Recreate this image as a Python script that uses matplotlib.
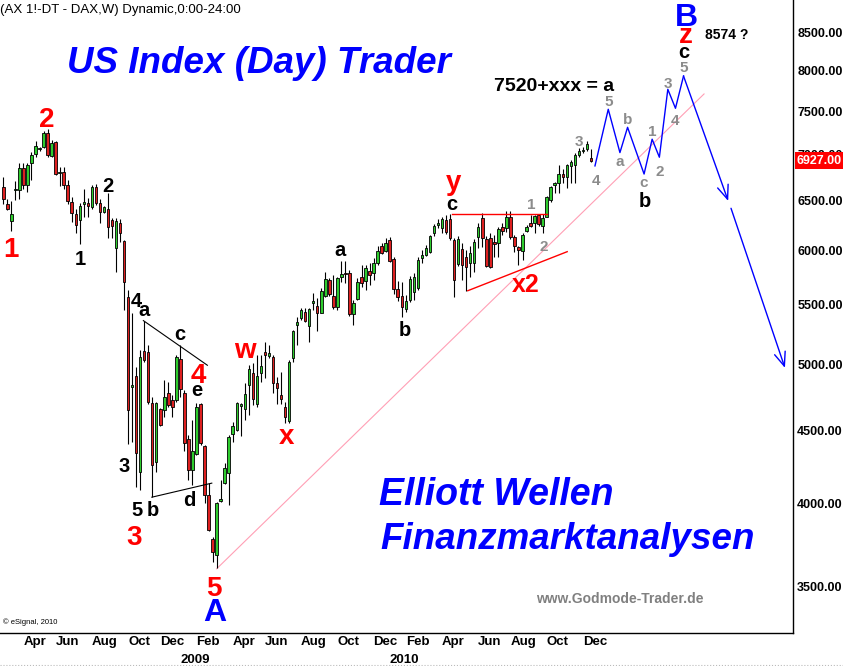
import numpy as np
import pandas as pd
import matplotlib
matplotlib.use('Agg')
import matplotlib.pyplot as plt
from matplotlib.transforms import blended_transform_factory
from matplotlib.lines import Line2D
from matplotlib.ticker import NullLocator, FixedLocator, FixedFormatter

plt.rcParams['font.family'] = ['Liberation Sans', 'DejaVu Sans']

W, H = 843, 666
start = pd.Timestamp('2008-03-03')   # first weekly bar

opens = [6640, 6460, 6290, 6610, 6610, 6850, 6660, 6905, 7000, 7060,
         7080, 7240, 6985, 7135, 6790, 6800, 6665, 6485, 6360, 6300,
         6460, 6477, 6436, 6639, 6471, 6379, 6412, 6300, 6020, 6273,
         6091, 5570, 4820, 4905, 4210, 5110, 5095, 4697, 4278, 4652,
         4647, 4778, 4722, 4722, 5043, 4773, 4434, 4221, 4332, 4692,
         4383, 4056, 3778, 3684, 4019, 4133, 4199, 4469, 4500, 4680,
         4652, 4834, 4929, 4692, 4929, 5102, 5068, 5059, 4855, 4760,
         4672, 4568, 5048, 5322, 5383, 5435, 5319, 5511, 5490, 5432,
         5580, 5720, 5578, 5484, 5747, 5790, 5784, 5418, 5549, 5747,
         5714, 5808, 5790, 5878, 6042, 5997, 6101, 5916, 5638, 5578,
         5461, 5543, 5617, 5647, 5928, 5957, 5988, 6167, 6250, 6217,
         6300, 6307, 6101, 5868, 6011, 5940, 5878, 5878, 6128, 6317,
         6108, 6118, 6084, 6074, 6227, 6217, 6333, 6134, 6030, 5997,
         6193, 6273, 6267, 6350, 6240, 6333, 6505, 6658, 6681, 6779,
         6746, 6867, 6882, 6991, 7040, 7055, 6960]
highs = [6745, 6510, 6490, 6710, 6900, 6900, 6905, 7030, 7150, 7085,
         7270, 7285, 7160, 7145, 6860, 6860, 6715, 6535, 6410, 6470,
         6620, 6523, 6663, 6674, 6512, 6443, 6575, 6317, 6317, 6307,
         6101, 5630, 5425, 4980, 5115, 5360, 5155, 4747, 4710, 4664,
         4876, 4863, 4760, 5076, 5157, 4799, 4465, 4573, 4697, 4697,
         4394, 4133, 3793, 4013, 4155, 4267, 4465, 4560, 4710, 4700,
         4851, 4995, 5008, 5076, 5076, 5184, 5157, 5076, 4900, 4939,
         4710, 5035, 5282, 5396, 5472, 5470, 5472, 5602, 5558, 5650,
         5794, 5741, 5769, 5753, 5900, 5902, 5815, 5543, 5738, 5862,
         5862, 5880, 5928, 6046, 6072, 6118, 6130, 5938, 5714, 5705,
         5587, 5760, 5787, 5938, 6004, 6053, 6150, 6260, 6310, 6333,
         6350, 6357, 6121, 6140, 6072, 6004, 6042, 6110, 6268, 6368,
         6140, 6167, 6150, 6227, 6267, 6395, 6395, 6150, 6042, 6167,
         6250, 6350, 6350, 6360, 6360, 6547, 6653, 6700, 6882, 6834,
         6893, 6936, 7010, 7066, 7077, 7150, 7055]
lows = [6465, 6400, 6190, 6505, 6510, 6620, 6590, 6715, 6970, 7040,
        7065, 6970, 6965, 6770, 6655, 6620, 6465, 6275, 6170, 6060,
        6335, 6327, 6409, 6453, 6267, 6368, 6118, 6118, 5799, 6084,
        5455, 4400, 4415, 4110, 4090, 5020, 4690, 4040, 4210, 4529,
        4597, 4672, 4597, 4710, 4747, 4348, 4155, 4120, 4324, 4394,
        4002, 3825, 3645, 3610, 4013, 4129, 3992, 4417, 4493, 4455,
        4573, 4610, 4685, 4670, 4860, 4892, 5051, 4774, 4692, 4692,
        4549, 4551, 5021, 5157, 5368, 5351, 5179, 5455, 5276, 5429,
        5570, 5578, 5464, 5455, 5707, 5695, 5406, 5325, 5543, 5662,
        5632, 5677, 5723, 5862, 5966, 5985, 5890, 5596, 5534, 5397,
        5438, 5525, 5543, 5632, 5880, 5947, 5976, 6140, 6220, 6170,
        6160, 6101, 5572, 5852, 5723, 5625, 5751, 5800, 6020, 6036,
        5846, 5831, 5940, 5940, 6150, 6183, 6108, 5988, 5862, 5909,
        6183, 6227, 6167, 6240, 6167, 6327, 6488, 6582, 6582, 6681,
        6628, 6681, 6681, 6972, 7010, 7040, 6910]
closes = [6510, 6415, 6360, 6620, 6845, 6660, 6885, 6990, 7095, 7065,
          7240, 6990, 7125, 6780, 6800, 6665, 6495, 6375, 6245, 6445,
          6487, 6446, 6639, 6477, 6385, 6429, 6227, 6240, 6290, 6173,
          5707, 4650, 4840, 4335, 5060, 5035, 4705, 4255, 4697, 4536,
          4747, 4684, 4672, 5056, 4804, 4406, 4221, 4348, 4672, 4409,
          4056, 3835, 3704, 4006, 4031, 4232, 4452, 4529, 4697, 4690,
          4768, 4960, 4727, 4903, 4989, 5076, 5094, 4850, 4812, 4727,
          4597, 5016, 5274, 5348, 5455, 5362, 5464, 5534, 5432, 5623,
          5732, 5593, 5484, 5738, 5778, 5778, 5418, 5514, 5702, 5698,
          5831, 5769, 5884, 5997, 5978, 6068, 5900, 5638, 5572, 5484,
          5537, 5729, 5753, 5909, 5957, 6020, 6140, 6240, 6273, 6307,
          6183, 6118, 5723, 6108, 5862, 5840, 5978, 6084, 6233, 6118,
          5852, 5846, 6061, 6207, 6190, 6333, 6134, 6042, 6004, 6150,
          6233, 6240, 6340, 6260, 6317, 6533, 6639, 6684, 6782, 6746,
          6882, 6911, 6991, 7033, 7050, 7120, 6927]
last_price = 6927.00

# projected wave path (week index, price)
proj_x = [147.0, 150.3, 153.2, 155.1, 159.2, 161.2, 163.0, 165.1, 167.0, 169.0]
proj_y = [6870, 7522, 7018, 7308, 6781, 7170, 6966, 7767, 7534, 7934]
arrow1 = [(169.0, 7934), (180.1, 6495)]
arrow2 = [(180.8, 6419), (194.2, 4971)]

# trend lines (week index, price)
pink_line = [(53.0, 3603), (174.1, 7709)]
tri_upper = [(34.8, 5362), (50.7, 4992)]
tri_lower = [(36.9, 4041), (51.8, 4133)]
red_top = [(111.4, 6358), (135.0, 6358)]
red_low = [(115.4, 5625), (140.1, 5988)]

y_ticks = [3500, 4000, 4500, 5000, 5500, 6000, 6500, 7000, 7500, 8000, 8500]
month_starts = ['2008-04', '2008-06', '2008-08', '2008-10', '2008-12', '2009-02',
                '2009-04', '2009-06', '2009-08', '2009-10', '2009-12', '2010-02',
                '2010-04', '2010-06', '2010-08', '2010-10', '2010-12']
month_labels = ['Apr', 'Jun', 'Aug', 'Oct', 'Dec', 'Feb', 'Apr', 'Jun', 'Aug',
                'Oct', 'Dec', 'Feb', 'Apr', 'Jun', 'Aug', 'Oct', 'Dec']
year_starts = ['2009-01', '2010-01']
year_labels = ['2009', '2010']

fig = plt.figure(figsize=(W / 100, H / 100), dpi=100)
ax = fig.add_axes([0, 33 / H, 793 / W, 633 / H])
ax.set_yscale('log')
ax.set_ylim(3251, 8961)
ax.set_xlim(-0.82, 196.2)

weeks = np.arange(len(closes))
o = np.array(opens, float); c = np.array(closes, float)
hi = np.array(highs, float); lo = np.array(lows, float)
cols = np.where(c >= o, '#2ECC2E', '#DD2020')
ax.vlines(weeks, lo, hi, color='black', lw=0.8, zorder=2)
ax.bar(weeks, np.abs(c - o), bottom=np.minimum(o, c), width=0.62, color=cols,
       edgecolor='black', linewidth=0.6, zorder=3)

# lines
ax.plot(*zip(*pink_line), color='#FF9FB5', lw=0.8, zorder=1)
ax.plot(*zip(*tri_upper), color='black', lw=0.8, zorder=4)
ax.plot(*zip(*tri_lower), color='black', lw=0.8, zorder=4)
ax.plot(*zip(*red_top), color='#FF0000', lw=1.0, zorder=4)
ax.plot(*zip(*red_low), color='#FF0000', lw=1.0, zorder=4)
ax.plot(proj_x, proj_y, color='#0000FF', lw=1.0, zorder=4)
for a in (arrow1, arrow2):
    ax.annotate('', xy=a[1], xytext=a[0],
                arrowprops=dict(arrowstyle='->,head_length=1.0,head_width=0.4',
                                color='#0000FF', lw=1.0, shrinkA=0, shrinkB=0,
                                mutation_scale=10), zorder=4)

# axes styling
for s in ('left', 'top'):
    ax.spines[s].set_visible(False)
for s in ('right', 'bottom'):
    ax.spines[s].set_linewidth(1.0)
    ax.spines[s].set_color('black')
ax.yaxis.tick_right()
ax.yaxis.set_major_locator(FixedLocator(y_ticks))
ax.yaxis.set_major_formatter(FixedFormatter([f'{v:.2f}' for v in y_ticks]))
ax.yaxis.set_minor_locator(NullLocator())
ax.tick_params(axis='y', length=0, pad=3, labelsize=9)
for lbl in ax.get_yticklabels():
    lbl.set_fontweight('bold')

all_weeks = pd.date_range(start, periods=220, freq='7D')
def week_pos(d):
    return int(np.searchsorted(all_weeks, pd.Timestamp(d)))

ax.set_xticks([week_pos(d) for d in month_starts])
ax.set_xticklabels(month_labels, ha='left', fontweight='bold', fontsize=9.5)
ax.xaxis.set_minor_locator(NullLocator())
ax.tick_params(axis='x', length=0, pad=2.5)
ytr = blended_transform_factory(ax.transData, fig.transFigure)
for d, t in zip(year_starts, year_labels):
    ax.text(week_pos(d), 1 - 663 / H, t, transform=ytr, ha='left', va='baseline',
            fontsize=9.5, fontweight='bold', clip_on=False)

# last price box
btr = blended_transform_factory(ax.transAxes, ax.transData)
ax.text(797 / 793, last_price, f'{last_price:.2f}', transform=btr, ha='left',
        va='center', color='white', fontweight='bold', fontsize=9, zorder=10,
        clip_on=False, bbox=dict(boxstyle='square,pad=0.18', fc='#FF0000', ec='none'))

# texts (pixel positions)
def ptext(x, y, s, **kw):
    fig.text(x / W, 1 - y / H, s, **kw)

def wlabel(s, x, y, size, color, f=None):
    if f is None:
        tall = any(ch.isdigit() or ch.isupper() or ch in 'bdfhklt' for ch in s)
        f = 0.36 if tall else 0.26
    base = y + f * size * 100 / 72
    ptext(x, base, s, ha='center', va='baseline', fontsize=size, color=color,
          fontweight='bold')

ptext(0, 13.5, '(AX 1!-DT - DAX,W) Dynamic,0:00-24:00', ha='left', va='baseline',
      fontsize=9.5, color='black')
ptext(67, 73, 'US Index (Day) Trader', ha='left', va='baseline', fontsize=26.5,
      color='#0000FF', fontweight='bold', fontstyle='italic')
ptext(379, 505, 'Elliott Wellen', ha='left', va='baseline', fontsize=27,
      color='#0000FF', fontweight='bold', fontstyle='italic')
ptext(380, 549, 'Finanzmarktanalysen', ha='left', va='baseline', fontsize=26.5,
      color='#0000FF', fontweight='bold', fontstyle='italic')
ptext(536, 603, 'www.Godmode-Trader.de', ha='left', va='baseline', fontsize=10,
      color='#808080', fontweight='bold')
ptext(3, 624, '© eSignal, 2010', ha='left', va='baseline', fontsize=5.5, color='black')
ptext(614, 91, '7520+xxx = a', ha='right', va='baseline', fontsize=14,
      color='black', fontweight='bold')
wlabel('8574 ?', 726.7, 34.3, 10, 'black')

RED, BLK, GRY, BLU = '#FF0000', 'black', '#8C8C8C', '#0000FF'
red_labels = [('2', 46.7, 117.3), ('1', 11, 246.7), ('4', 198.3, 372.7),
              ('3', 134.3, 535), ('5', 214.3, 586), ('w', 245, 350.7),
              ('x', 286.7, 436.7), ('z', 685.7, 36)]
for s, x, y in red_labels:
    wlabel(s, x, y, 20, RED)
wlabel('y', 453.3, 186, 20, RED, f=0.16)
wlabel('x2', 526, 282.7, 18, RED)

blk_labels = [('2', 108.3, 185), ('1', 80, 257.3), ('4', 136, 299.3), ('a', 144.3, 311),
              ('c', 180.3, 335), ('e', 196.7, 390.7), ('3', 124, 465), ('5', 136.7, 508.3),
              ('b', 152.7, 508.3), ('d', 189.3, 498.3), ('a', 340, 251), ('b', 405, 329),
              ('c', 451.7, 205), ('b', 645, 200), ('c', 684.3, 52.3)]
for s, x, y in blk_labels:
    wlabel(s, x, y, 14.5, BLK)

gry_labels = [('1', 531.7, 203.3), ('2', 543.3, 245), ('3', 579.3, 140), ('4', 595.7, 179.3),
              ('5', 608.3, 100), ('a', 619.3, 162.3), ('b', 627.7, 118.3), ('c', 644, 182.7),
              ('1', 652, 130), ('2', 659.3, 170), ('3', 667.7, 82.7), ('4', 675.3, 119.3),
              ('5', 683.3, 66)]
for s, x, y in gry_labels:
    wlabel(s, x, y, 11, GRY)

wlabel('A', 214.3, 609.3, 23, BLU)
wlabel('B', 686, 15, 23, BLU)

fig.add_artist(Line2D([0, 1], [1.5 / H, 1.5 / H], transform=fig.transFigure,
                      color='#BBBBBB', lw=0.8, ls=':'))

fig.savefig('out.png', dpi=100)
